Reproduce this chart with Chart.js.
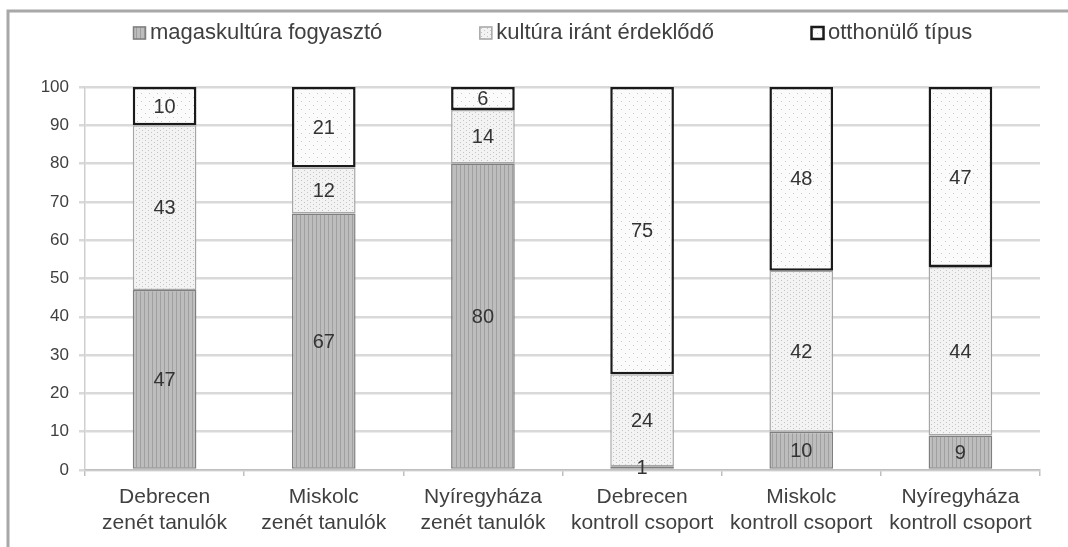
<!DOCTYPE html>
<html lang="hu">
<head>
    <meta charset="UTF-8">
    <title>Kulturális fogyasztói típusok</title>
    <script src="https://cdn.jsdelivr.net/npm/chart.js"></script>
    <style>
        html, body { margin: 0; padding: 0; background: #ffffff; }
        #wrap { width: 1068px; height: 547px; position: relative; }
    </style>
</head>
<body>
    <div id="wrap"><canvas id="typeChart"></canvas></div>

    <script>
        // Data
        const categories = [
            ['Debrecen', 'zenét tanulók'],
            ['Miskolc', 'zenét tanulók'],
            ['Nyíregyháza', 'zenét tanulók'],
            ['Debrecen', 'kontroll csoport'],
            ['Miskolc', 'kontroll csoport'],
            ['Nyíregyháza', 'kontroll csoport']
        ];
        const seriesNames = ['magaskultúra fogyasztó', 'kultúra iránt érdeklődő', 'otthonülő típus'];
        const highCulture = [47, 67, 80, 1, 10, 9];
        const interested = [43, 12, 14, 24, 42, 44];
        const homeBody = [10, 21, 6, 75, 48, 47];
        const yTicks = [0, 10, 20, 30, 40, 50, 60, 70, 80, 90, 100];

        const FONT = '"Liberation Sans", Arial, sans-serif';
        const TEXT = '#404040';

        // Fill patterns, Excel style
        function makePattern(w, h, base, paint) {
            const c = document.createElement('canvas');
            c.width = w; c.height = h;
            const g = c.getContext('2d');
            g.fillStyle = base;
            g.fillRect(0, 0, w, h);
            paint(g);
            return g.createPattern(c, 'repeat');
        }
        const ctx = document.getElementById('typeChart').getContext('2d');
        const stripeFill = makePattern(4, 4, '#bdbdbd', g => {
            g.fillStyle = '#a0a0a0';
            g.fillRect(0, 0, 1, 4);
        });
        const dotColFill = makePattern(6, 4, '#f3f3f3', g => {
            g.fillStyle = '#c4c4c4';
            g.fillRect(1, 0, 1, 1);
            g.fillRect(4, 2, 1, 1);
        });
        const sparseDotFill = makePattern(8, 8, '#fbfbfb', g => {
            g.fillStyle = '#c8c8c8';
            g.fillRect(1, 1, 1, 1);
            g.fillRect(5, 5, 1, 1);
        });

        // Outer frame like the clipped picture (top + left edge)
        const framePlugin = {
            id: 'frame',
            beforeDraw(chart) {
                const c = chart.ctx;
                c.save();
                c.strokeStyle = '#a8a8a8';
                c.lineWidth = 3;
                c.beginPath();
                c.moveTo(8, chart.height);
                c.lineTo(8, 11);
                c.lineTo(chart.width, 11);
                c.stroke();
                c.restore();
            }
        };

        // Values in the middle of each segment
        const valueLabels = {
            id: 'valueLabels',
            afterDatasetsDraw(chart) {
                const c = chart.ctx;
                c.save();
                c.font = '20px ' + FONT;
                c.fillStyle = '#333333';
                c.textAlign = 'center';
                c.textBaseline = 'middle';
                chart.data.datasets.forEach((ds, i) => {
                    chart.getDatasetMeta(i).data.forEach((bar, j) => {
                        const v = ds.data[j];
                        const y = (bar.y + bar.base) / 2;
                        c.fillText(String(v), bar.x, y + 1);
                    });
                });
                c.restore();
            }
        };

        // Legend row above the plot
        const topLegend = {
            id: 'topLegend',
            afterDraw(chart) {
                const c = chart.ctx;
                const area = chart.chartArea;
                c.save();
                c.font = '22px ' + FONT;
                c.textBaseline = 'middle';
                const box = 13, gapText = 4, gapItem = 97;
                let x = area.left + 48;
                const y = 33;
                chart.data.datasets.forEach(ds => {
                    c.fillStyle = ds.backgroundColor;
                    c.fillRect(x, y - box / 2, box, box);
                    c.strokeStyle = ds.borderColor;
                    c.lineWidth = ds.borderWidth;
                    c.strokeRect(x + 0.5, y - box / 2 + 0.5, box - 1, box - 1);
                    c.fillStyle = TEXT;
                    c.fillText(ds.label, x + box + gapText, y);
                    x += box + gapText + c.measureText(ds.label).width + gapItem;
                });
                c.restore();
            }
        };

        new Chart(ctx, {
            type: 'bar',
            data: {
                labels: categories,
                datasets: [
                    {
                        label: seriesNames[0],
                        data: highCulture,
                        backgroundColor: stripeFill,
                        borderColor: '#7f7f7f',
                        borderWidth: 1.5,
                        borderSkipped: false
                    },
                    {
                        label: seriesNames[1],
                        data: interested,
                        backgroundColor: dotColFill,
                        borderColor: '#a6a6a6',
                        borderWidth: 1.5,
                        borderSkipped: false
                    },
                    {
                        label: seriesNames[2],
                        data: homeBody,
                        backgroundColor: sparseDotFill,
                        borderColor: '#1a1a1a',
                        borderWidth: 2.5,
                        borderSkipped: false
                    }
                ]
            },
            options: {
                responsive: true,
                maintainAspectRatio: false,
                animation: false,
                layout: { padding: { left: 0, right: 28, top: 87, bottom: 0 } },
                datasets: { bar: { categoryPercentage: 1, barPercentage: 0.4 } },
                plugins: {
                    legend: { display: false },
                    tooltip: { enabled: false }
                },
                scales: {
                    x: {
                        stacked: true,
                        grid: {
                            offset: true,
                            drawOnChartArea: false,
                            drawTicks: true,
                            tickLength: 6,
                            color: '#bfbfbf',
                            lineWidth: 1.5
                        },
                        border: { display: true, color: '#bfbfbf', width: 1.5 },
                        ticks: {
                            color: TEXT,
                            font: { family: FONT, size: 21, lineHeight: 1.2 },
                            padding: 9,
                            maxRotation: 0,
                            autoSkip: false
                        },
                        afterFit(scale) { scale.height = 77; }
                    },
                    y: {
                        stacked: true,
                        min: 0,
                        max: 100,
                        afterBuildTicks(scale) { scale.ticks = yTicks.map(v => ({ value: v })); },
                        grid: {
                            color: '#d9d9d9',
                            lineWidth: 2.5,
                            tickLength: 6,
                            tickColor: '#d9d9d9'
                        },
                        border: { display: true, color: '#cfcfcf', width: 1.5 },
                        ticks: {
                            color: TEXT,
                            font: { family: FONT, size: 17 },
                            padding: 10
                        },
                        afterFit(scale) { scale.width = 85; }
                    }
                }
            },
            plugins: [framePlugin, valueLabels, topLegend]
        });
    </script>
</body>
</html>
